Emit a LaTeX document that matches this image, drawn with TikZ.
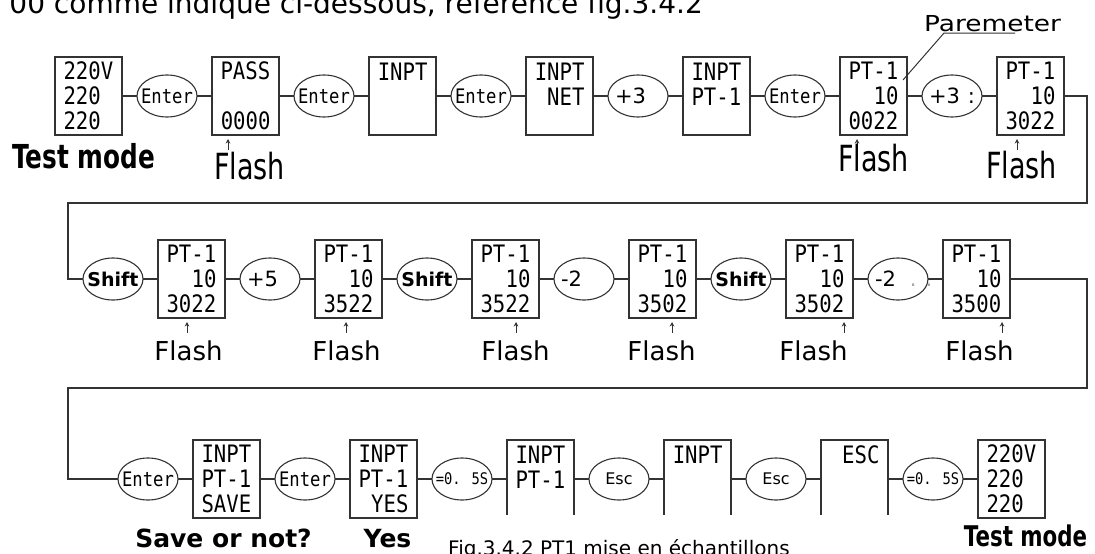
\documentclass[tikz,border=0pt]{standalone}
\usepackage{fontspec}
\setmainfont{DejaVu Sans}
\newfontfamily\lcdfont[FakeStretch=0.86]{DejaVu Sans Mono}
\newfontfamily\narrowfont[FakeStretch=0.75]{DejaVu Sans}
\newfontfamily\widefont[FakeStretch=1.2]{DejaVu Sans}
\usepackage{xcolor}
\usetikzlibrary{arrows.meta,positioning,shapes.geometric}
\definecolor{linegray}{HTML}{333333}

\newcommand{\lcd}[3]{\rule{0pt}{18pt}#1\\\mbox{}#2\\\mbox{}#3}
\newcommand{\rt}[1]{\hspace*{\fill}#1}
\newcommand{\kt}[1]{\makebox[0pt]{#1}}
\newcommand{\ktl}[1]{\makebox[0pt]{\makebox[46pt][l]{#1}}}

\begin{document}
\begin{tikzpicture}[
    x=1pt, y=-1pt,
    node distance=20pt and 15pt,
    screen/.style={draw=linegray, line width=1.3pt, minimum width=67pt,
                   minimum height=78pt, text width=50pt, inner sep=0pt, outer sep=0pt,
                   align=left, font=\lcdfont\fontsize{24}{25}\selectfont},
    key/.style={ellipse, draw=linegray, line width=1.1pt, minimum width=60pt,
                minimum height=42pt, inner sep=0pt, outer sep=0pt,
                font=\lcdfont\fontsize{20}{22}\selectfont},
    stepkey/.style={key, font=\fontsize{21}{23}\selectfont},
    shiftkey/.style={key, font=\bfseries\fontsize{19}{21}\selectfont},
    esckey/.style={key, font=\fontsize{16}{18}\selectfont},
    timekey/.style={key, font=\lcdfont\fontsize{16}{18}\selectfont},
    link/.style={draw=linegray, line width=1.2pt},
    ptr/.style={-{Stealth[length=4.5pt,width=4.5pt]}, draw=linegray, line width=0.9pt},
    flashtop/.style={anchor=base, inner sep=0pt, font=\narrowfont\fontsize{36}{38}\selectfont},
    flash/.style={anchor=base, inner sep=0pt, font=\fontsize{26}{28}\selectfont},
    note/.style={anchor=base, inner sep=0pt, font=\bfseries\fontsize{25}{27}\selectfont},
    mode/.style={anchor=base, inner sep=0pt, font=\narrowfont\bfseries\fontsize{33}{35}\selectfont}
]
\useasboundingbox (0,0) rectangle (1095,554);
\clip (0,0) rectangle (1095,554);

\node[anchor=base east, inner sep=0pt, font=\fontsize{28}{30}\selectfont] (intro) at (703,13)
    {00 comme indiqué ci-dessous, référence fig.3.4.2};

% first row
\node[screen, anchor=west] (d1) at (55,96) {\lcd{220V}{220}{220}};
\node[key, right=of d1] (k1) {\kt{Enter}};
\node[screen, right=of k1] (d2) {\lcd{PASS}{}{\rt{0000}}};
\node[key, right=of d2] (k2) {\kt{Enter}};
\node[screen, right=of k2] (d3) {\lcd{\rt{INPT}}{}{}};
\node[key, right=of d3] (k3) {\kt{Enter}};
\node[screen, right=of k3] (d4) {\lcd{\rt{INPT}}{\rt{NET}}{}};
\node[stepkey, right=of d4] (k4) {\ktl{+3}};
\node[screen, right=of k4] (d5) {\lcd{INPT}{PT-1}{}};
\node[key, right=of d5] (k5) {\kt{Enter}};
\node[screen, right=of k5] (d6) {\lcd{PT-1}{\rt{10}}{0022}};
\node[stepkey, right=of d6] (k6) {\ktl{+3\hfill:}};
\node[screen, right=of k6] (d7) {\lcd{PT-1}{\rt{10}}{3022}};

% second row
\node[shiftkey, anchor=west] (k7) at (83,279) {\kt{Shift}};
\node[screen, right=of k7] (d8) {\lcd{PT-1}{\rt{10}}{3022}};
\node[stepkey, right=of d8] (k8) {\ktl{+5}};
\node[screen, right=of k8] (d9) {\lcd{PT-1}{\rt{10}}{3522}};
\node[shiftkey, right=of d9] (k9) {\kt{Shift}};
\node[screen, right=of k9] (d10) {\lcd{PT-1}{\rt{10}}{3522}};
\node[stepkey, right=of d10] (k10) {\ktl{-2}};
\node[screen, right=of k10] (d11) {\lcd{PT-1}{\rt{10}}{3502}};
\node[shiftkey, right=of d11] (k11) {\kt{Shift}};
\node[screen, right=of k11] (d12) {\lcd{PT-1}{\rt{10}}{3502}};
\node[stepkey, right=of d12] (k12) {\ktl{-2\hspace{14pt}{\color{black!35}. .}}};
\node[screen, right=of k12] (d13) {\lcd{PT-1}{\rt{10}}{3500}};

% third row
\node[key, anchor=west] (k13) at (118,479) {\kt{Enter}};
\node[screen, right=of k13] (d14) {\lcd{INPT}{PT-1}{SAVE}};
\node[key, right=of d14] (k14) {\kt{Enter}};
\node[screen, right=of k14] (d15) {\lcd{INPT}{PT-1}{\rt{YES}}};
\node[timekey, right=of d15] (k15) {\kt{=0. 5S}};
\node[screen, right=of k15] (d16) {\lcd{INPT}{PT-1}{}};
\node[esckey, right=of d16] (k16) {\kt{Esc}};
\node[screen, right=of k16] (d17) {\lcd{\rt{INPT}}{}{}};
\node[esckey, right=of d17] (k17) {\kt{Esc}};
\node[screen, right=of k17] (d18) {\lcd{\hspace*{\fill}ESC\hspace*{\fill}}{}{}};
\node[timekey, right=of d18] (k18) {\kt{=0. 5S}};
\node[screen, right=of k18] (d19) {\lcd{220V}{220}{220}};

% connectors
\foreach \a/\b in {d1/k1,k1/d2,d2/k2,k2/d3,d3/k3,k3/d4,d4/k4,k4/d5,d5/k5,k5/d6,d6/k6,k6/d7,
                   k7/d8,d8/k8,k8/d9,d9/k9,k9/d10,d10/k10,k10/d11,d11/k11,k11/d12,d12/k12,k12/d13,
                   k13/d14,d14/k14,k14/d15,d15/k15,k15/d16,d16/k16,k16/d17,d17/k17,k17/d18,d18/k18,k18/d19}
    \draw[link] (\a) -- (\b);

\coordinate (c1) at (1087,203);
\coordinate (c2) at (68,203);
\coordinate (c3) at (1087,388);
\coordinate (c4) at (68,388);
\draw[link] (d7.east) -| (c1) -- (c2) |- (k7.west);
\draw[link] (d13.east) -| (c3) -- (c4) |- (k13.west);

% parameter leader
\node[anchor=base west, inner sep=0pt, font=\widefont\fontsize{22}{24}\selectfont] (param) at (924,31) {Paremeter};
\draw[link, line width=1pt] ([xshift=-4pt,yshift=16pt]d6.east) -- ([xshift=20pt,yshift=-2pt]param.base west)
    -- ([xshift=91pt,yshift=-2pt]param.base west);

% flashing digit pointers
\foreach \n/\o in {d2/16,d6/17,d7/20,d8/29,d9/31,d10/44,d11/43,d12/58,d13/59}
    \draw[ptr] ([xshift=\o pt,yshift=-15pt]\n.south west) -- ([xshift=\o pt,yshift=-4pt]\n.south west);

\node[mode] (m1) at ([xshift=-5pt,yshift=-33pt]d1.south) {Test mode};
\node[flashtop] (f2) at ([xshift=4pt,yshift=-44pt]d2.south) {Flash};
\node[flashtop] (f6) at ([xshift=0pt,yshift=-36pt]d6.south) {Flash};
\node[flashtop] (f7) at ([xshift=-9pt,yshift=-43pt]d7.south) {Flash};

\node[flash] (f8) at ([xshift=-3pt,yshift=-42pt]d8.south) {Flash};
\node[flash] (f9) at ([xshift=-2pt,yshift=-42pt]d9.south) {Flash};
\node[flash] (f10) at ([xshift=10pt,yshift=-42pt]d10.south) {Flash};
\node[flash] (f11) at ([xshift=-1pt,yshift=-42pt]d11.south) {Flash};
\node[flash] (f12) at ([xshift=-6pt,yshift=-42pt]d12.south) {Flash};
\node[flash] (f13) at ([xshift=3pt,yshift=-42pt]d13.south) {Flash};

\node[note] (n14) at ([xshift=-3pt,yshift=-29pt]d14.south) {Save or not?};
\node[note] (n15) at ([xshift=4pt,yshift=-29pt]d15.south) {Yes};
\node[mode, font=\narrowfont\bfseries\fontsize{28.5}{30}\selectfont] (m19) at ([xshift=14pt,yshift=-28pt]d19.south) {Test mode};

% caption strip
\fill[white] (425,515) rectangle (900,554);
\node[anchor=base west, inner sep=0pt, font=\fontsize{20}{22}\selectfont] (cap) at (448,555)
    {Fig.3.4.2 PT1 mise en échantillons};
\end{tikzpicture}
\end{document}
